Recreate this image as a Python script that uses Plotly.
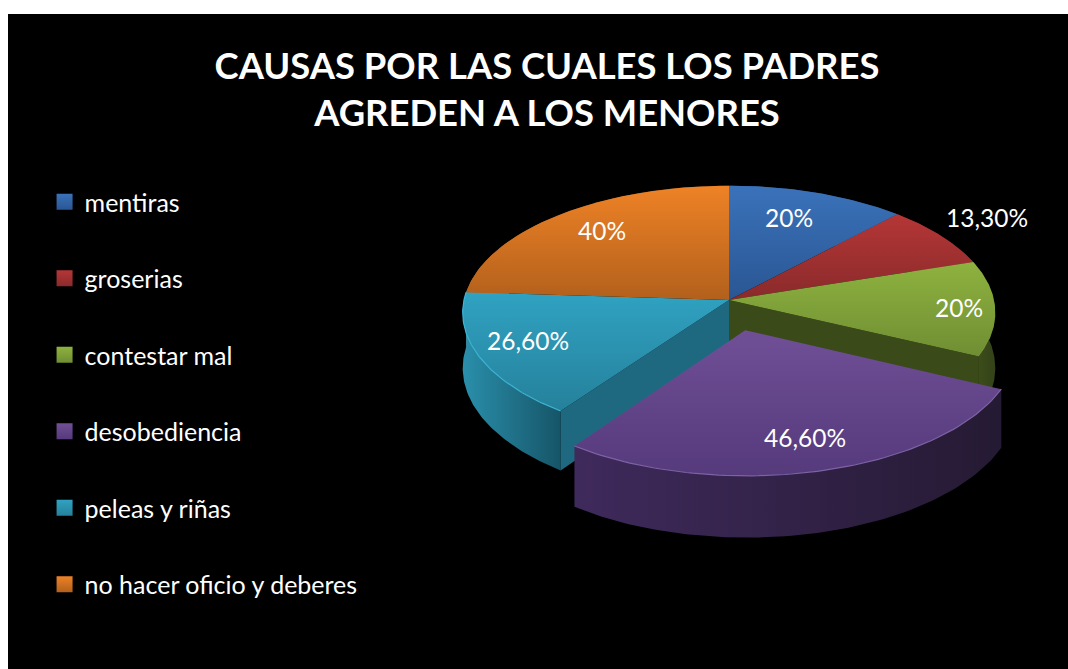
import numpy as np
import plotly.graph_objects as go

# ---- data ----
categories = ["mentiras", "groserias", "contestar mal", "desobediencia", "peleas y riñas", "no hacer oficio y deberes"]
values = [20, 13.3, 20, 46.6, 26.6, 40]
exploded = [0, 0, 0, 0.24, 0, 0]

title_lines = ["CAUSAS POR LAS CUALES LOS PADRES", "AGREDEN A LOS MENORES"]

# ---- styles ----
top_light = ["#3A72BA", "#B53636", "#8EB23F", "#704F96", "#30A2C2", "#EE8226"]
top_dark = ["#2A5693", "#8A2A2B", "#6F8E33", "#553A7C", "#25819B", "#B2601C"]
wall_light = ["#2A5693", "#8A2A2B", "#3F5019", "#3F2A5C", "#2A8FAB", "#B2601C"]
wall_dark = ["#1B3760", "#5A1C1C", "#33421A", "#251A33", "#165568", "#703C12"]
face_cols = ["#1B3760", "#5A1C1C", "#3A4A18", "#2E2044", "#1F6980", "#703C12"]
rim_cols = [None, None, None, "#7E62A6", "#3DB4D4", None]
label_pos = [(789, 217), (987, 217), (959, 307), (805, 437), (528, 340), (602, 230)]

FONT = "Lato"
CX, CY, RX, RY, K, DEPTH = 729, 300, 265, 127, 0.10, 55


def project(X, Y, drop=0.0):
    s = 1 + K * np.asarray(Y)
    return CX + RX * np.asarray(X) * s, CY + RY * np.asarray(Y) * s + drop * s


total = sum(values)
edges = np.concatenate([[0], np.cumsum(values)]) / total * 2 * np.pi
fig = go.Figure()


def poly(px, py, first, last, kind):
    fig.add_trace(go.Scatter(
        x=px, y=py, mode="lines", fill="toself", line=dict(width=0),
        fillgradient=dict(type=kind, colorscale=[[0, first], [1, last]]),
        showlegend=False, hoverinfo="skip"))


def slice_geom(i):
    t = np.linspace(edges[i], edges[i + 1], 80)
    mid = (edges[i] + edges[i + 1]) / 2
    ox, oy = exploded[i] * np.sin(mid), -exploded[i] * np.cos(mid)
    return np.sin(t) + ox, -np.cos(t) + oy, ox, oy


def draw_wall(i):
    X, Y, ox, oy = slice_geom(i)
    x1, y1 = project(X, Y)
    x2, y2 = project(X, Y, DEPTH)
    poly(np.r_[x1, x2[::-1]], np.r_[y1, y2[::-1]], wall_light[i], wall_dark[i], "horizontal")


def draw_face(i, end):
    X, Y, ox, oy = slice_geom(i)
    ex, ey = (X[-1], Y[-1]) if end else (X[0], Y[0])
    a = project([ox, ex], [oy, ey])
    b = project([ox, ex], [oy, ey], DEPTH)
    fig.add_trace(go.Scatter(
        x=np.r_[a[0], b[0][::-1]], y=np.r_[a[1], b[1][::-1]], mode="lines", fill="toself",
        line=dict(width=0), fillcolor=face_cols[i], showlegend=False, hoverinfo="skip"))


def draw_top(i):
    X, Y, ox, oy = slice_geom(i)
    px, py = project(np.r_[ox, X, ox], np.r_[oy, Y, oy])
    # the vertical gradient runs from the bottom of the shape (0) to its top (1)
    poly(px, py, top_dark[i], top_light[i], "vertical")
    if rim_cols[i]:
        rx, ry = project(X, Y)
        fig.add_trace(go.Scatter(x=rx, y=ry, mode="lines", line=dict(width=1.2, color=rim_cols[i]),
                                 showlegend=False, hoverinfo="skip"))


normal = [i for i in range(len(values)) if not exploded[i]]
out = [i for i in range(len(values)) if exploded[i]]
for i in [5, 0, 1, 2, 4]:
    draw_wall(i)
for i in out:
    prev_i, next_i = i - 1, (i + 1) % len(values)
    draw_face(prev_i, True)
    draw_face(next_i, False)
for i in normal:
    draw_top(i)
for i in out:
    draw_wall(i)
    draw_top(i)

# legend entries
for i, name in enumerate(categories):
    fig.add_trace(go.Scatter(
        x=[None], y=[None], mode="markers", name=name, legendgroup=name,
        marker=dict(symbol="square", size=17, color=top_light[i],
                    gradient=dict(type="vertical", color=top_dark[i]))))


def fmt(v):
    return f"{v:.0f}%" if float(v).is_integer() else f"{v:.2f}%".replace(".", ",")


for v, (lx, ly) in zip(values, label_pos):
    fig.add_annotation(x=lx, y=ly, text=fmt(v), showarrow=False, xref="x", yref="y",
                       font=dict(family=FONT, size=24.5, color="white"))

fig.update_layout(
    width=1068, height=669, margin=dict(l=8, r=0, t=14, b=0),
    paper_bgcolor="white", plot_bgcolor="black",
    title=dict(text="<br>".join(title_lines), x=547 / 1068, xanchor="center", y=0.882, yanchor="top",
               font=dict(family=FONT, size=36.4, color="white", weight="bold")),
    xaxis=dict(range=[8, 1068], visible=False, fixedrange=True),
    yaxis=dict(range=[669, 14], visible=False, fixedrange=True),
    legend=dict(x=0.0345, xanchor="left", y=0.748, yanchor="top", yref="paper",
                bgcolor="rgba(0,0,0,0)", tracegroupgap=41,
                font=dict(family=FONT, size=25, color="white"), itemclick=False, itemdoubleclick=False),
    showlegend=True,
)
fig.write_html("out.html", post_script="document.body.style.margin='0';", config={"displayModeBar": False})
